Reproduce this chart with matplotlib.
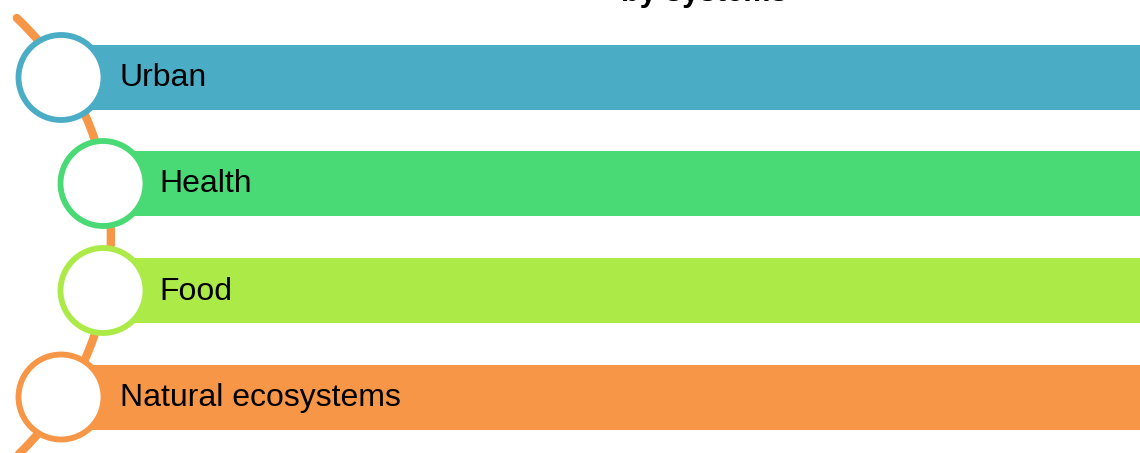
import numpy as np
import matplotlib
matplotlib.use("Agg")
import matplotlib.pyplot as plt
from matplotlib.patches import Circle, Rectangle

categories = ["Urban", "Health", "Food", "Natural ecosystems"]
colors = ["#4BACC6", "#4ADA75", "#ACEA48", "#F79646"]
indent = [0, 1, 1, 0]
title_tail = "by systems"

W, H = 1140, 453
fig = plt.figure(figsize=(W / 100, H / 100), dpi=100)
ax = fig.add_axes([0, 0, 1, 1])
ax.set_xlim(0, W)
ax.set_ylim(H, 0)
ax.axis("off")

# orange arc
cx, cy, R = -194, 237, 301.9
ys = np.linspace(18, 470, 300)
xs = cx + np.sqrt(np.clip(R**2 - (ys - cy) ** 2, 0, None))
xs = xs + 3
ax.plot(xs, ys, color="#F79646", lw=6, solid_capstyle="round", zorder=1)

row_y = [77.5, 183.5, 290.5, 397]
bar_h = 65
r = 42.5
for i, (cat, col) in enumerate(zip(categories, colors)):
    yc = row_y[i]
    xc = 61 + 42 * indent[i]
    ax.add_patch(Rectangle((xc, yc - bar_h / 2), W - xc + 10, bar_h,
                           facecolor=col, edgecolor="none", zorder=2))
    ax.add_patch(Circle((xc, yc), r, facecolor="white", edgecolor=col,
                        lw=4.2, zorder=3))
    ax.text(xc + 59 - 2.5 * indent[i], yc + 1, cat, fontsize=23,
            family="Liberation Sans", va="center", ha="left",
            color="black", zorder=4)

ax.text(787, 1, title_tail, fontsize=22, family="Liberation Sans",
        fontweight="bold", ha="right", va="baseline", color="black")

fig.savefig("out.png", dpi=100)
